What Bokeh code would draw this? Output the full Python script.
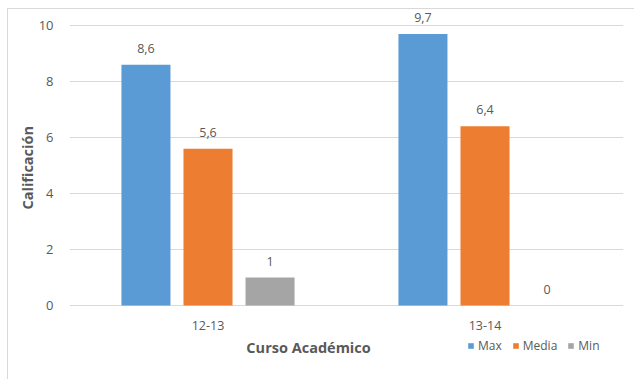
from bokeh.plotting import figure
from bokeh.models import (ColumnDataSource, FactorRange, LabelSet, Label, Legend,
                          LegendItem, Title)
from bokeh.core.properties import value
from bokeh.transform import dodge
from bokeh.embed import file_html
from bokeh.resources import INLINE

# Calificaciones por curso académico
cursos = ["12-13", "13-14"]
maximo = [8.6, 9.7]
media = [5.6, 6.4]
minimo = [1, 0]
series = ["Max", "Media", "Min"]
y_ticks = [0, 2, 4, 6, 8, 10]

colores = ["#5B9BD5", "#ED7D31", "#A5A5A5"]
texto = "#595959"
fuente = "Open Sans"


def etiqueta(v):
    return f"{v:g}".replace(".", ",")


source = ColumnDataSource(dict(
    curso=cursos,
    base=[0] * len(cursos),
    Max=maximo,
    Media=media,
    Min=minimo,
    Max_txt=[etiqueta(v) for v in maximo],
    Media_txt=[etiqueta(v) for v in media],
    Min_txt=[etiqueta(v) for v in minimo],
))

# El marco llega hasta el pie para alojar el título del eje X y la leyenda
p = figure(
    x_range=FactorRange(factors=cursos, range_padding=0),
    y_range=(-2.607, 10.536),
    width=627, height=371,
    output_backend="svg", toolbar_location=None,
    min_border_left=61, min_border_right=12,
    min_border_top=1, min_border_bottom=2,
)
p.styles = {
    "margin-left": "7px", "margin-top": "8px",
    "border-left": "1px solid #d9d9d9", "border-top": "1px solid #d9d9d9",
}
p.outline_line_color = None
p.background_fill_color = "white"
p.border_fill_color = "white"

ancho = 0.177
desplaz = [-0.224, 0.0, 0.224]
items = []
for nombre, color, dx in zip(series, colores, desplaz):
    r = p.vbar(x=dodge("curso", dx, range=p.x_range), top=nombre, width=ancho,
               bottom=0, source=source, fill_color=color, line_color=None)
    items.append(LegendItem(label=nombre, renderers=[r]))
    p.add_layout(LabelSet(
        x=dodge("curso", dx, range=p.x_range), y=nombre, text=nombre + "_txt",
        source=source, text_align="center", text_baseline="bottom", y_offset=12,
        text_font=value(fuente), text_font_size="12.5px", text_color=texto,
    ))

# Eje Y
p.xgrid.grid_line_color = None
p.ygrid.grid_line_color = "#d9d9d9"
p.ygrid.grid_line_width = 1

p.yaxis.ticker = y_ticks
p.yaxis.axis_line_color = None
p.yaxis.major_tick_line_color = None
p.yaxis.minor_tick_line_color = None
p.yaxis.major_label_standoff = 10
p.yaxis.major_label_text_font = fuente
p.yaxis.major_label_text_font_size = "13px"
p.yaxis.major_label_text_color = texto

# Título del eje Y centrado sobre el tramo 0-10
p.add_layout(Title(
    text="Calificación", align="left", offset=169, standoff=-2,
    text_font=fuente, text_font_style="bold", text_font_size="14.5px",
    text_color=texto,
), "left")

# Eje X: categorías bajo la línea de cero
p.xaxis.visible = False
p.add_layout(LabelSet(
    x="curso", y="base", text="curso", source=source,
    text_align="center", text_baseline="middle", y_offset=-20,
    text_font=value(fuente), text_font_size="12.5px", text_color=texto,
))
p.add_layout(Label(
    x=0.863, y=-1.5, text="Curso Académico",
    text_align="center", text_baseline="middle",
    text_font=fuente, text_font_style="bold", text_font_size="14.5px",
    text_color=texto,
))

leyenda = Legend(
    items=items, orientation="horizontal", location=(398, 24),
    label_text_font=fuente, label_text_font_size="12px", label_text_color=texto,
    glyph_width=7, glyph_height=7, label_standoff=4, spacing=10,
    padding=0, margin=0, border_line_color=None, background_fill_alpha=0,
    label_height=12,
)
p.add_layout(leyenda)

open("out.html", "w").write(file_html(p, INLINE))
